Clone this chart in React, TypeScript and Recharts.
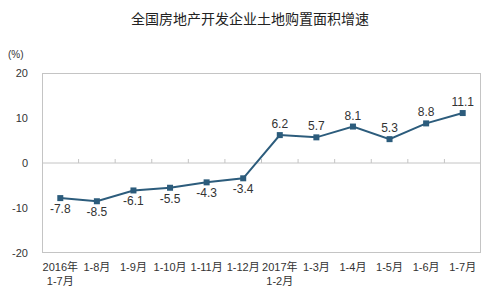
import React from 'react';
import { LineChart, Line, XAxis, YAxis, ReferenceLine, LabelList } from 'recharts';

const categories = ['2016年\n1-7月', '1-8月', '1-9月', '1-10月', '1-11月', '1-12月', '2017年\n1-2月', '1-3月', '1-4月', '1-5月', '1-6月', '1-7月'];
const growth = [-7.8, -8.5, -6.1, -5.5, -4.3, -3.4, 6.2, 5.7, 8.1, 5.3, 8.8, 11.1];
const yTicks = [-20, -10, 0, 10, 20];
const yMin = -20;
const yMax = 20;

const data = categories.map((c, i) => ({ cat: c, v: growth[i] }));

const FONT = '"Liberation Sans", Arial, "Noto Sans CJK SC", sans-serif';
const LINE = '#2c5c7c';
const FRAME = '#c4c4c4';
const CHART_W = 500;
const CHART_H = 295;
const M_TOP = 73;
const M_RIGHT = 19;
const Y_W = 42;
const X_H = 42;

const XTick = (props: any) => {
  const { x, y, payload } = props;
  const lines = String(payload.value).split('\n');
  return (
    <text x={x} y={y} textAnchor="middle" fontSize={11} fill="#333" fontFamily={FONT}>
      {lines.map((l, i) => (
        <tspan key={i} x={x} dy={i === 0 ? 10 : 14}>{l}</tspan>
      ))}
    </text>
  );
};

const ZeroLine = (props: any) => {
  const { x1, x2, y1 } = props;
  const n = categories.length;
  const step = (x2 - x1) / n;
  const ticks = [];
  for (let i = 1; i < n; i++) {
    const tx = x1 + step * i;
    ticks.push(<line key={i} x1={tx} x2={tx} y1={y1} y2={y1 - 4} stroke={FRAME} strokeWidth={1} />);
  }
  return (
    <g>
      <line x1={x1} x2={x2} y1={y1} y2={y1} stroke={FRAME} strokeWidth={1} />
      {ticks}
    </g>
  );
};

const Marker = (props: any) => {
  const { cx, cy } = props;
  return <rect x={cx - 3} y={cy - 3} width={6} height={6} fill={LINE} />;
};

const DataLabel = (props: any) => {
  const { x, y, value } = props;
  const dy = value < 0 ? 15 : -7;
  return (
    <text x={x} y={y + dy} textAnchor="middle" fontSize={12} fill="#333" fontFamily={FONT}>
      {value}
    </text>
  );
};

export default function App() {
  return (
    <div style={{ position: 'relative', width: CHART_W, height: CHART_H, background: '#fff', margin: -8 }}>
      <div
        style={{
          position: 'absolute',
          left: Y_W,
          top: M_TOP,
          width: CHART_W - Y_W - M_RIGHT,
          height: CHART_H - M_TOP - X_H,
          border: `1px solid ${FRAME}`,
          boxSizing: 'border-box',
          pointerEvents: 'none',
        }}
      />
      <div style={{ position: 'absolute', top: 8, left: 0, width: CHART_W, textAlign: 'center', fontSize: 14, color: '#222', fontFamily: FONT }}>
        全国房地产开发企业土地购置面积增速
      </div>
      <div style={{ position: 'absolute', top: 49, left: 8, fontSize: 10, color: '#333', fontFamily: FONT }}>
        (%)
      </div>
      <div style={{ position: 'absolute', left: 0, top: 0 }}>
        <LineChart width={CHART_W} height={CHART_H} data={data} margin={{ top: M_TOP, right: M_RIGHT, bottom: 0, left: 0 }}>
          <XAxis dataKey="cat" scale="band" height={X_H} axisLine={false} tickLine={false} tick={<XTick />} interval={0} />
          <YAxis domain={[yMin, yMax]} ticks={yTicks} width={Y_W} axisLine={false} tickLine={false} tickMargin={8} tick={{ fontSize: 11, fill: '#333', fontFamily: FONT }} />
          <ReferenceLine y={0} shape={<ZeroLine />} />
          <Line dataKey="v" stroke={LINE} strokeWidth={2} dot={<Marker />} isAnimationActive={false}>
            <LabelList dataKey="v" content={<DataLabel />} />
          </Line>
        </LineChart>
      </div>
    </div>
  );
}
